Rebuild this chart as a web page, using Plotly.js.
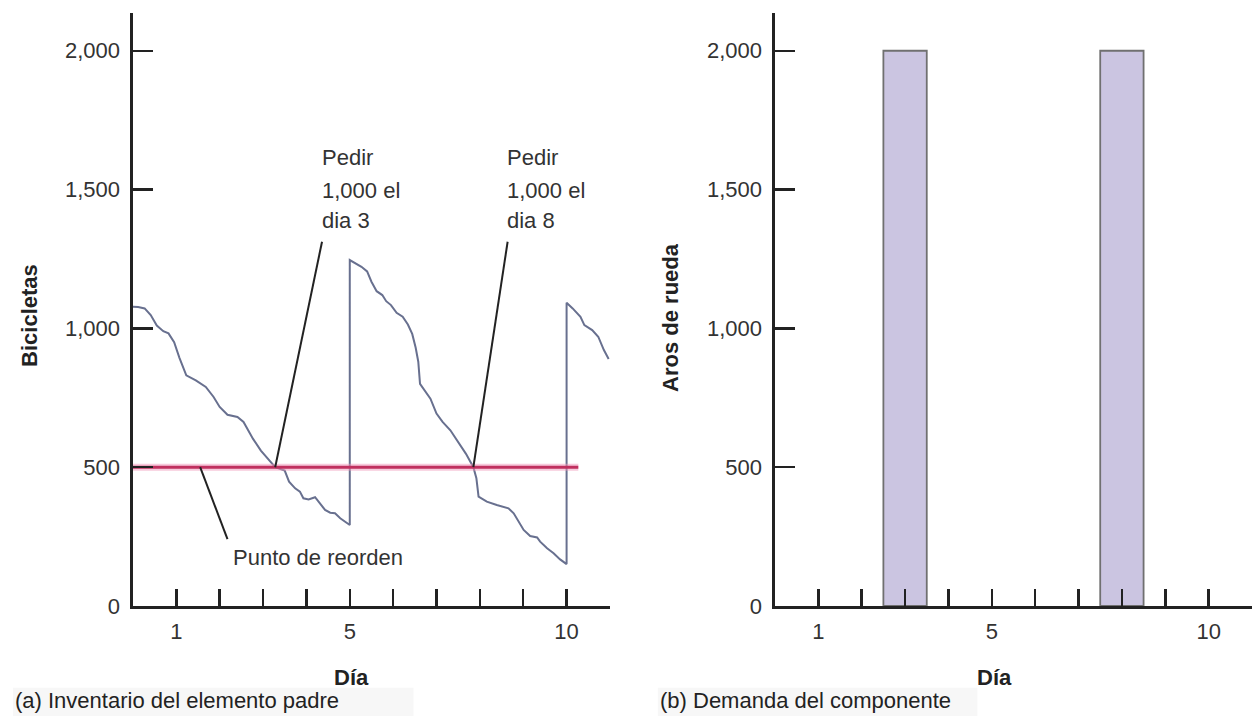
<!DOCTYPE html>
<html>
<head>
<meta charset="utf-8">
<script src="https://cdn.plot.ly/plotly-3.0.1.min.js"></script>
<style>
  html, body { margin: 0; padding: 0; background: #fff; }
  #chart { width: 1253px; height: 727px; }
</style>
</head>
<body>
<div id="chart"></div>
<script>
// Parent item inventory (bicycles)
const INV_DAYS = [
  0, 0.12, 0.27, 0.41, 0.55, 0.7, 0.82, 0.95, 1.07, 1.14, 1.23, 1.45, 1.68, 1.86, 2.0, 2.18, 2.41, 2.55,
  2.77, 2.95, 3.14, 3.28, 3.5, 3.6, 3.74, 3.85, 3.93, 4.05, 4.2, 4.32, 4.43, 4.55, 4.66, 4.78, 4.89, 5.0,
  5.0, 5.12, 5.27, 5.4, 5.5, 5.62, 5.75, 5.84, 5.95, 6.08, 6.22, 6.34, 6.44, 6.52, 6.58, 6.62, 6.73, 6.86,
  7.0, 7.14, 7.32, 7.5, 7.68, 7.85, 7.92, 7.97, 8.16, 8.39, 8.66, 8.78, 8.89, 9.01, 9.16, 9.32, 9.39, 9.55,
  9.7, 9.85, 10.0,
  10.0, 10.14, 10.32, 10.41, 10.59, 10.73, 10.86, 10.97,
];
const INV_UNITS = [
  1078, 1077, 1072, 1048, 1010, 990, 982, 950, 895, 867, 831, 813, 789, 753, 717, 689, 681, 663,
  602, 560, 524, 500, 488, 448, 424, 412, 388, 384, 392, 370, 346, 336, 334, 316, 304, 292,
  1246, 1236, 1222, 1205, 1168, 1134, 1120, 1098, 1084, 1056, 1042, 1014, 980, 930, 880, 800, 777, 747,
  693, 663, 633, 590, 548, 500, 460, 394, 376, 364, 352, 334, 304, 274, 252, 247, 232, 208,
  190, 168, 151,
  1092, 1072, 1042, 1012, 994, 970, 922, 890,
];

// Reorder point
const REORDER_DAYS = [0, 10.27];
const REORDER_UNITS = [500, 500];

// Component demand (wheel rims)
const DEMAND_DAYS = [3, 8];
const DEMAND_UNITS = [2000, 2000];

// Ticks
const DAY_TICKS = [1, 2, 3, 4, 5, 6, 7, 8, 9, 10];
const DAY_LABELS = ['1', '', '', '', '5', '', '', '', '', '10'];
const UNIT_TICKS = [0, 500, 1000, 1500, 2000];
const UNIT_LABELS = ['0', '500', '1,000', '1,500', '2,000'];

const FONT = 'Liberation Sans, Arial, Helvetica, sans-serif';
const INK = '#222';
const TEXT = '#333';

function xAxis(domain, anchor) {
  return {
    domain: domain, anchor: anchor, range: [0, 11],
    tickmode: 'array', tickvals: DAY_TICKS, ticktext: DAY_LABELS,
    ticks: 'inside', ticklen: 17, tickwidth: 2.5, tickcolor: INK,
    showline: true, linecolor: INK, linewidth: 2.5,
    showgrid: false, zeroline: false,
    tickfont: { family: FONT, size: 22, color: TEXT },
    ticklabelstandoff: 4,
    fixedrange: true,
  };
}

function yAxis(anchor) {
  return {
    domain: [0.1664, 0.9825], anchor: anchor, range: [0, 2137],
    tickmode: 'array', tickvals: UNIT_TICKS, ticktext: UNIT_LABELS,
    ticks: 'inside', ticklen: 20, tickwidth: 2.5, tickcolor: INK,
    showline: true, linecolor: INK, linewidth: 2.5,
    showgrid: false, zeroline: false,
    tickfont: { family: FONT, size: 22, color: TEXT },
    ticklabelstandoff: 6,
    fixedrange: true,
  };
}

function note(text, x, y, xref, yref, opts) {
  return Object.assign({
    text: text, x: x, y: y, xref: xref, yref: yref,
    showarrow: false, xanchor: 'left', yanchor: 'middle',
    font: { family: FONT, size: 22, color: TEXT },
  }, opts || {});
}

function leader(x0, y0, x1, y1) {
  return {
    type: 'line', xref: 'x', yref: 'y', x0: x0, y0: y0, x1: x1, y1: y1,
    line: { color: INK, width: 2 }, layer: 'above',
  };
}

const traces = [
  {
    x: INV_DAYS, y: INV_UNITS, xaxis: 'x', yaxis: 'y',
    mode: 'lines', line: { color: '#68708f', width: 2 },
    hoverinfo: 'skip', showlegend: false,
  },
  {
    x: REORDER_DAYS, y: REORDER_UNITS, xaxis: 'x', yaxis: 'y',
    mode: 'lines', line: { color: 'rgba(240,150,185,0.5)', width: 7 },
    hoverinfo: 'skip', showlegend: false,
  },
  {
    x: REORDER_DAYS, y: REORDER_UNITS, xaxis: 'x', yaxis: 'y',
    mode: 'lines', line: { color: '#c0305f', width: 3 },
    hoverinfo: 'skip', showlegend: false,
  },
  {
    type: 'bar', x: DEMAND_DAYS, y: DEMAND_UNITS, xaxis: 'x2', yaxis: 'y2',
    width: 1,
    marker: { color: '#cbc5e1', line: { color: '#707070', width: 1.8 } },
    hoverinfo: 'skip', showlegend: false,
  },
];

const bold = { family: FONT, size: 22, color: INK, weight: 'bold' };
const caption = { family: FONT, size: 22, color: INK };

const layout = {
  width: 1253, height: 727,
  margin: { l: 0, r: 0, t: 0, b: 0 },
  paper_bgcolor: '#fff', plot_bgcolor: 'rgba(0,0,0,0)',
  font: { family: FONT, color: TEXT },
  showlegend: false,
  xaxis: xAxis([0.1061, 0.4868], 'y'),
  yaxis: yAxis('x'),
  xaxis2: xAxis([0.6185, 0.9992], 'y2'),
  yaxis2: yAxis('x2'),
  shapes: [
    // faint caption bands
    { type: 'rect', xref: 'paper', yref: 'paper', x0: 0.0104, x1: 0.33, y0: 0.015, y1: 0.054,
      fillcolor: '#f7f7f7', line: { width: 0 }, layer: 'below' },
    { type: 'rect', xref: 'paper', yref: 'paper', x0: 0.525, x1: 0.78, y0: 0.015, y1: 0.054,
      fillcolor: '#f7f7f7', line: { width: 0 }, layer: 'below' },
    leader(3.28, 500, 4.36, 1312),
    leader(7.85, 500, 8.64, 1312),
    leader(1.55, 500, 2.18, 241),
  ],
  annotations: [
    note('Pedir', 4.32, 1617, 'x', 'y'),
    note('1,000 el', 4.32, 1495, 'x', 'y'),
    note('dia 3', 4.32, 1388, 'x', 'y'),
    note('Pedir', 8.59, 1617, 'x', 'y'),
    note('1,000 el', 8.59, 1495, 'x', 'y'),
    note('dia 8', 8.59, 1388, 'x', 'y'),
    note('Punto de reorden', 2.27, 176, 'x', 'y'),
    // axis titles
    note('Bicicletas', 0.0231, 0.5667, 'paper', 'paper', { xanchor: 'center', textangle: -90, font: bold }),
    note('Aros de rueda', 0.5355, 0.564, 'paper', 'paper', { xanchor: 'center', textangle: -90, font: bold }),
    note('Día', 5.05, 0.068, 'x', 'paper', { xanchor: 'center', font: bold }),
    note('Día', 5.07, 0.068, 'x2', 'paper', { xanchor: 'center', font: bold }),
    // captions
    note('(a) Inventario del elemento padre', 0.0104, 0.0358, 'paper', 'paper', { font: caption }),
    note('(b) Demanda del componente', 0.525, 0.0358, 'paper', 'paper', { font: caption }),
  ],
};

Plotly.newPlot('chart', traces, layout, { displayModeBar: false, staticPlot: true });
</script>
</body>
</html>
